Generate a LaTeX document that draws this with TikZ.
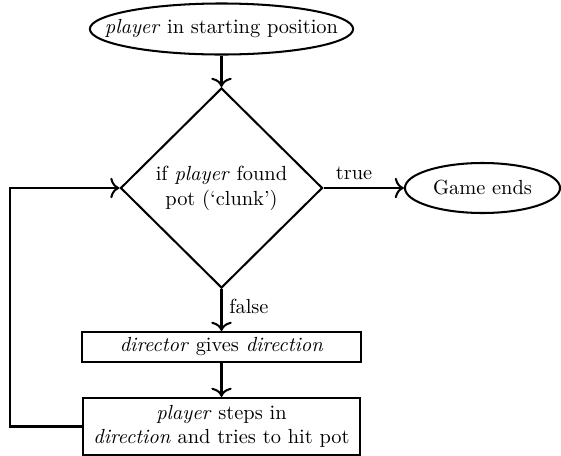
\documentclass[tikz,border=0pt]{standalone}
\usetikzlibrary{shapes.geometric,arrows.meta}
\begin{document}
\begin{tikzpicture}[x=0.49pt,y=-0.49pt,
  base/.style={draw,line width=1pt,inner sep=0pt,font=\normalsize},
  term/.style={base,ellipse},
  decide/.style={base,diamond,align=center},
  proc/.style={base,rectangle,align=center},
  conn/.style={line width=1pt,-{To[length=4.5pt,width=10pt]}}]
\useasboundingbox (0,0) rectangle (561,456);
\node[term,minimum width=129pt,minimum height=25pt] (start) at (221.5,29) {\makebox[0pt]{\textit{player} in starting position}};
\node[decide,minimum width=99pt,minimum height=98pt] (dia) at (221.5,188) {\makebox[0pt]{\begin{tabular}{@{}c@{}}if \textit{player} found\\pot (`clunk')\end{tabular}}};
\node[term,minimum width=76pt,minimum height=24.5pt] (end) at (482.5,188) {\makebox[0pt]{Game ends}};
\node[proc,minimum width=137pt,minimum height=14.7pt] (dir) at (221.5,347) {\textit{director} gives \textit{direction}};
\node[proc,minimum width=136pt,minimum height=28pt] (step) at (221.5,426.5) {\textit{player} steps in\\\textit{direction} and tries to hit pot};
\coordinate (loopx) at (10,188);
\draw[conn] (start) -- (dia.north);
\draw[conn] (dia.east) -- node[above,pos=0.38] {true} (end.west);
\draw[conn] (dia.south) -- node[right,pos=0.42] {false} (dir.north);
\draw[conn] (dir) -- (step);
\draw[conn] (step.west) -| (loopx) -- (dia.west);
\end{tikzpicture}
\end{document}
